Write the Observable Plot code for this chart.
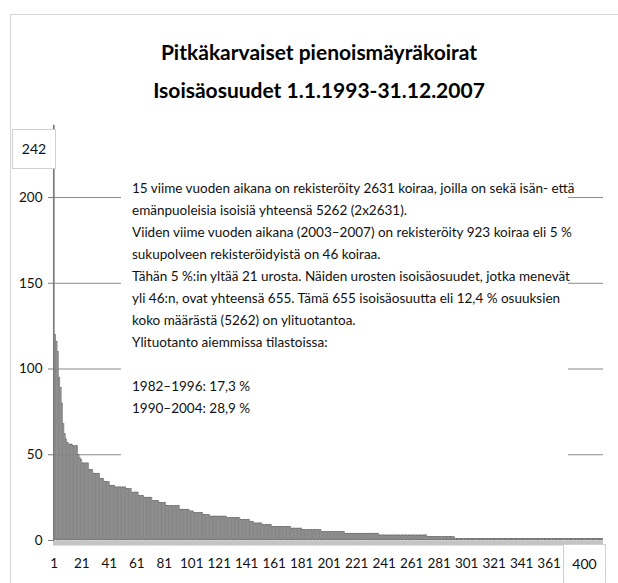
<!DOCTYPE html>
<html><head><meta charset="utf-8">
<script src="https://cdn.jsdelivr.net/npm/d3@7"></script>
<script src="https://cdn.jsdelivr.net/npm/@observablehq/plot@0.6"></script>
<style>
body{margin:0;background:#fff;}
#wrap{position:relative;width:618px;height:583px;overflow:hidden;font-family:Lato,sans-serif;color:#111;}
#frame{position:absolute;left:10px;top:14px;width:700px;height:700px;border:1px solid #d4d4d4;}
#chart{position:absolute;left:0;top:0;}
#title{position:absolute;left:0;top:33px;width:638px;text-align:center;font-weight:700;font-size:21px;line-height:38px;color:#000;}
#note{position:absolute;left:121px;top:166px;width:447px;height:300px;background:#fff;}
#notetext{position:absolute;left:132px;top:177px;width:440px;font-size:13.5px;line-height:22px;color:#111;white-space:pre;}
.box{position:absolute;background:#fff;border:1px solid #cfcfcf;text-align:center;font-size:14px;line-height:38px;color:#111;}
</style></head>
<body>
<div id="wrap">
<div id="frame"></div>
<div id="chart"></div>
<div id="title"></div>
<div id="note"></div>
<div id="notetext"></div>
<div class="box" id="ymax" style="left:12px;top:129px;width:42px;height:38px;"></div>
<div class="box" id="xmax" style="left:563px;top:544px;width:41px;height:60px;"></div>
</div>
<script>
const titleLines = ["Pitkäkarvaiset pienoismäyräkoirat", "Isoisäosuudet 1.1.1993-31.12.2007"];
const noteLines = [
  "15 viime vuoden aikana on rekisteröity 2631 koiraa, joilla on sekä isän- että",
  "emänpuoleisia isoisiä yhteensä 5262 (2x2631).",
  "Viiden viime vuoden aikana (2003–2007) on rekisteröity 923 koiraa eli 5 %",
  "sukupolveen rekisteröidyistä on 46 koiraa.",
  "Tähän 5 %:in yltää 21 urosta. Näiden urosten isoisäosuudet, jotka menevät",
  "yli 46:n, ovat yhteensä 655. Tämä 655 isoisäosuutta eli 12,4 % osuuksien",
  "koko määrästä (5262) on ylituotantoa.",
  "Ylituotanto aiemmissa tilastoissa:",
  "",
  "1982–1996: 17,3 %",
  "1990–2004: 28,9 %"
];
const yMaxLabel = "242";
const xMaxLabel = "400";
const yTicks = [0, 50, 100, 150, 200];
const xTicks = [1, 21, 41, 61, 81, 101, 121, 141, 161, 181, 201, 221, 241, 261, 281, 301, 321, 341, 361];
// grandsire shares per male, sorted descending (rank 1..400)
const counts = [
  242,120,116,110,95,89,80,68,62,59,57,56,56,56,55,55,55,55,50,48,
  47,45,45,45,45,45,41,41,41,39,39,39,39,39,36,36,36,34,34,34,
  34,32,32,32,32,31,31,31,31,31,31,31,31,30,30,30,30,28,28,28,
  28,28,26,26,26,26,25,25,25,25,25,25,23,23,23,23,23,22,22,22,
  22,22,20,20,20,20,20,20,20,20,20,20,18,18,18,18,18,18,18,17,
  17,17,16,16,16,16,16,16,16,15,15,15,15,15,14,14,14,14,14,14,
  14,14,14,14,14,14,13,13,13,13,13,13,13,13,13,13,12,12,12,12,
  12,12,12,11,11,11,10,10,10,10,10,10,9,9,9,9,9,9,9,8,
  8,8,8,8,8,8,8,8,8,8,8,8,8,7,7,7,7,7,7,7,
  7,6,6,6,6,6,6,6,6,6,6,6,6,6,6,5,5,5,5,5,
  5,5,5,5,5,5,5,5,5,5,5,5,4,4,4,4,4,4,4,4,
  4,4,4,4,4,4,4,4,4,4,4,4,4,4,4,4,4,3,3,3,
  3,3,3,3,3,3,3,3,3,3,3,3,3,3,3,3,3,3,3,3,
  3,3,3,3,3,3,3,3,3,3,3,3,2,2,2,2,2,2,2,2,
  2,2,2,2,2,2,2,2,2,2,2,2,1,1,1,1,1,1,1,1,
  1,1,1,1,1,1,1,1,1,1,1,1,1,1,1,1,1,1,1,1,
  1,1,1,1,1,1,1,1,1,1,1,1,1,1,1,1,1,1,1,1,
  1,1,1,1,1,1,1,1,1,1,1,1,1,1,1,1,1,1,1,1,
  1,1,1,1,1,1,1,1,1,1,1,1,1,1,1,1,1,1,1,1,
  1,1,1,1,1,1,1,1,1,1,1,1,1,1,1,1,1,1,1,1
];
const data = counts.map((v, i) => ({rank: i + 1, count: v}));

document.getElementById("title").innerHTML = titleLines.join("<br>");
document.getElementById("notetext").textContent = noteLines.join("\n");
document.getElementById("ymax").textContent = yMaxLabel;
document.getElementById("xmax").textContent = xMaxLabel;

const chart = Plot.plot({
  width: 618,
  height: 583,
  marginLeft: 53,
  marginRight: 15,
  marginTop: 125,
  marginBottom: 43,
  style: {fontFamily: "Lato, sans-serif", fontSize: "13.5px", color: "#111", background: "transparent"},
  x: {type: "band", domain: data.map(d => d.rank), padding: 0.12},
  y: {domain: [0, 242]},
  marks: [
    Plot.ruleY(yTicks.slice(1), {stroke: "#8a8a8a", strokeWidth: 1}),
    Plot.barY(data, {x: "rank", y: "count", fill: "#9a9a9a", stroke: "#666", strokeWidth: 0.4}),
    Plot.ruleY([0], {stroke: "#c4c4c4", strokeWidth: 5, dy: 2.5}),
    Plot.frame({anchor: "left", stroke: "#7a7a7a"}),
    Plot.axisY({ticks: yTicks, tickSize: 5, tickPadding: 6, label: null, stroke: "#7a7a7a"}),
    Plot.axisX({ticks: xTicks, tickSize: 0, tickPadding: 18, label: null})
  ]
});
document.getElementById("chart").appendChild(chart);
</script>
</body></html>
